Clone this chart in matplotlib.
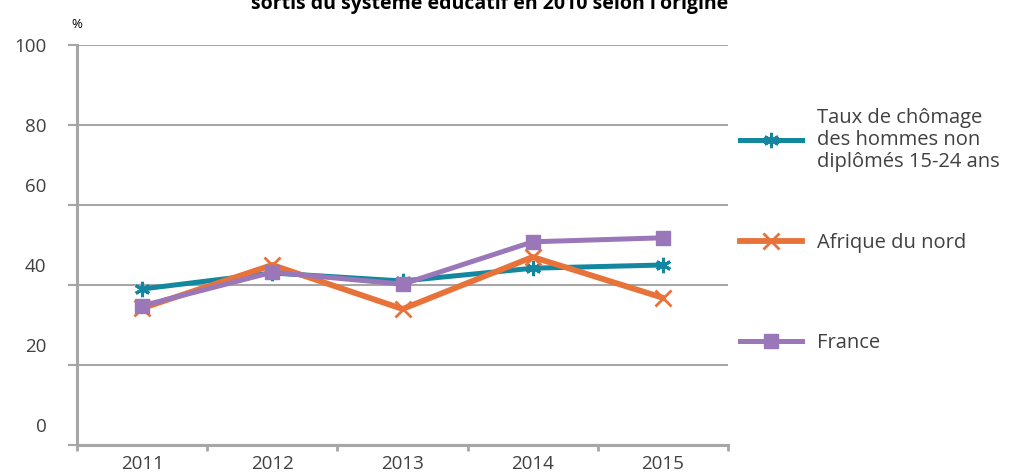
import matplotlib
matplotlib.use("Agg")
import matplotlib.pyplot as plt

plt.rcParams['font.family'] = ['Open Sans', 'DejaVu Sans']

years = ["2011", "2012", "2013", "2014", "2015"]
hommes = [39.0, 43.0, 41.0, 44.2, 45.0]
afrique = [34.2, 45.0, 34.0, 47.0, 36.8]
france = [34.8, 43.2, 40.2, 50.8, 51.8]

labels = ["Taux de chômage\ndes hommes non\ndiplômés 15-24 ans", "Afrique du nord", "France"]
colors = ["#13879F", "#E8733A", "#9A77B8"]
grid_vals = [0, 20, 40, 60, 80, 100]
ytick_pos = [5, 25, 45, 65, 80, 100]   # labels sit a bit off the lines in the original
ytick_txt = ["0", "20", "40", "60", "80", "100"]

txt = "#404040"
gray = "#A6A6A6"

fig = plt.figure(figsize=(10.14, 4.75), dpi=100)
ax = fig.add_axes([77/1014, 30/475, 651/1014, 400/475])

x = list(range(len(years)))
l1, = ax.plot(x, hommes, color=colors[0], lw=3.6, marker=(6, 2, 0), ms=11, mew=2.2, zorder=3)
l2, = ax.plot(x, afrique, color=colors[1], lw=4.2, marker="x", ms=12, mew=2, zorder=4)
l3, = ax.plot(x, france, color=colors[2], lw=3.6, marker="s", ms=10.5, zorder=5)

ax.set_xlim(-0.5, 4.5)
ax.set_ylim(0, 100)

# y: gridlines/ticks on minor, labels on major
ax.yaxis.remove_overlapping_locs = False
ax.set_yticks(ytick_pos)
ax.set_yticklabels(ytick_txt)
ax.set_yticks(grid_vals, minor=True)
ax.tick_params(axis="y", which="major", length=0, pad=22, labelsize=13.5, labelcolor=txt)
ax.tick_params(axis="y", which="minor", length=6.5, width=1.5, color=gray)
ax.yaxis.grid(True, which="minor", color=gray, lw=1.5)

# x: ticks between categories, labels at centres
ax.set_xticks([i - 0.5 for i in range(len(years) + 1)], minor=True)
ax.set_xticks(x)
ax.set_xticklabels(years)
ax.tick_params(axis="x", which="major", length=0, pad=7, labelsize=13.5, labelcolor=txt)
ax.tick_params(axis="x", which="minor", length=4, width=2, color=gray)

for s in ["top", "right"]:
    ax.spines[s].set_visible(False)
for s in ["left", "bottom"]:
    ax.spines[s].set_color(gray)
    ax.spines[s].set_linewidth(2.2)

fig.text(77/1014, 1 - 24/475, "%", fontsize=9.5, color="black", ha="center", va="center")
fig.text(490/1014, 1 - 8.5/475, "sortis du système éducatif en 2010 selon l'origine",
         fontsize=14, fontweight="bold", color="black", ha="center", va="baseline")

# legend, one block per series (fig.legend so nothing is drawn twice)
fs = 14.5
for h, lab, yc in zip([l1, l2, l3], labels, [140, 243, 343]):
    lg = fig.legend([h], [lab], loc="center left", bbox_to_anchor=(740/1014, 1 - yc/475),
                    bbox_transform=fig.transFigure, frameon=False, fontsize=fs,
                    handlelength=3.1, handletextpad=0.7, borderpad=0, borderaxespad=0,
                    labelcolor=txt)
    for t in lg.get_texts():
        t.set_linespacing(1.15)

fig.savefig("out.png", dpi=100)
